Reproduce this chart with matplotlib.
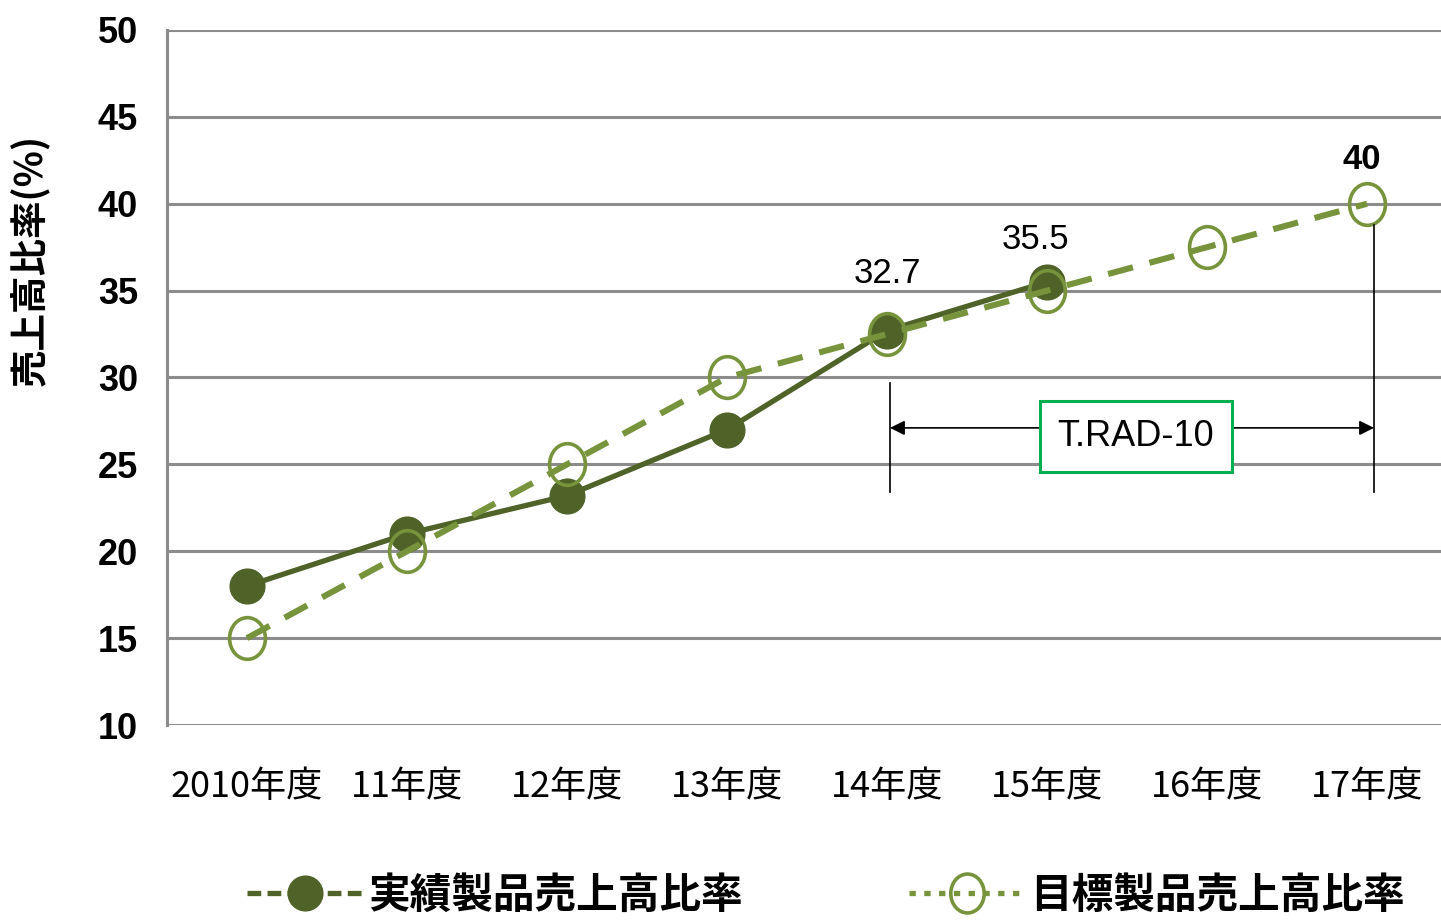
import matplotlib
matplotlib.use("Agg")
import matplotlib.pyplot as plt
from matplotlib.path import Path
from matplotlib.transforms import Affine2D
from matplotlib.lines import Line2D
from matplotlib.patches import FancyArrowPatch

plt.rcParams['font.family'] = ['Noto Sans CJK JP', 'DejaVu Sans']

categories = ["2010年度", "11年度", "12年度", "13年度", "14年度", "15年度", "16年度", "17年度"]
actual = [18, 21, 23.2, 27, 32.7, 35.5]
target = [15, 20, 25, 30, 32.5, 35, 37.5, 40]
label_actual = "実績製品売上高比率"
label_target = "目標製品売上高比率"
ylabel = "売上高比率(%)"
yticks = [10, 15, 20, 25, 30, 35, 40, 45, 50]
annot_text = "T.RAD-10"

c_actual = "#4F6228"
c_target = "#77933C"
c_grid = "#8C8C8C"

narrow = ['Liberation Sans', 'DejaVu Sans']

W, H = 1441, 921
fig = plt.figure(figsize=(W / 100, H / 100), dpi=100)
ax = fig.add_axes([167 / W, 1 - 725 / H, (W - 167) / W, (725 - 30) / H])

ax.set_ylim(10, 50)
ax.set_xlim(-0.5, 7.5 - 6 / 160)
ax.set_yticks(yticks)
ax.yaxis.grid(True, color=c_grid, linewidth=2.2)
ax.set_axisbelow(True)
for s in ["top", "right", "bottom"]:
    ax.spines[s].set_visible(False)
ax.spines["left"].set_color(c_grid)
ax.spines["left"].set_linewidth(2.2)
ax.tick_params(length=0)
ax.set_xticks(range(len(categories)))
ax.set_xticklabels(categories, fontsize=26)
ax.tick_params(axis='x', pad=32)
ax.tick_params(axis='y', pad=21)
for t in ax.get_yticklabels():
    t.set_fontfamily(narrow)
    t.set_fontweight('bold')
    t.set_fontsize(26)

ax.text(-0.108, 0.669, ylabel, transform=ax.transAxes, rotation=90, ha='center', va='center',
        fontsize=27, fontweight='bold')

# elliptical marker (slightly taller than wide)
ell = Path.unit_circle().transformed(Affine2D().scale(0.86, 1.0))

xa = list(range(len(actual)))
xt = list(range(len(target)))
ax.plot(xa, actual, color=c_actual, linewidth=3.8, marker='o', markersize=25,
        markerfacecolor=c_actual, markeredgecolor=c_actual, zorder=3, clip_on=False)
ax.plot(xt, target, color=c_target, linewidth=4.4, linestyle=(0, (4.2, 2.8)),
        marker=ell, markersize=30, markerfacecolor='none', markeredgecolor=c_target,
        markeredgewidth=2.6, zorder=4, clip_on=False)

# data labels
ax.annotate(f"{actual[4]}", (xa[4], actual[4]), xytext=(0, 29), textcoords='offset points',
            ha='center', va='bottom', fontsize=25, fontfamily=narrow)
ax.annotate(f"{actual[5]}", (xa[5] - 0.07, actual[5]), xytext=(0, 19), textcoords='offset points',
            ha='center', va='bottom', fontsize=25, fontfamily=narrow)
ax.annotate(f"{target[7]}", (xt[7] - 0.03, target[7]), xytext=(0, 20), textcoords='offset points',
            ha='center', va='bottom', fontsize=25, fontweight='bold', fontfamily=narrow)

# T.RAD-10 span annotation
x0, x1 = 4 + 3 / 160, 7 + 7 / 160
ax.plot([x0, x0], [23.4, 29.7], color='black', linewidth=1.2, zorder=5)
ax.plot([x1, x1], [23.4, 38.8], color='black', linewidth=1.2, zorder=5)
arr = FancyArrowPatch((x0, 27.1), (x1, 27.1), arrowstyle='<|-|>', mutation_scale=22,
                      color='black', linewidth=1.2, zorder=5, shrinkA=0, shrinkB=0)
ax.add_patch(arr)
ax.text(4 + (1137 - 888) / 160, 26.6, annot_text, ha='center', va='center', fontsize=26,
        zorder=6, fontfamily=narrow,
        bbox=dict(boxstyle='square,pad=0.5', facecolor='white', edgecolor='#00B050', linewidth=2.2))

# legend
h1 = Line2D([], [], color=c_actual, linewidth=3.8, linestyle=(0, (2.6, 1.2)), marker='o', markersize=25,
            markerfacecolor=c_actual, markeredgecolor=c_actual)
h2 = Line2D([], [], color=c_target, linewidth=3.8, linestyle=(0, (1.2, 1.6)), marker=ell,
            markersize=28, markerfacecolor='none', markeredgecolor=c_target, markeredgewidth=2.6)
fig.legend([h1, h2], [label_actual, label_target], loc='lower center', ncol=2,
           bbox_to_anchor=(0.573, -0.036), frameon=False, handlelength=2.8, handletextpad=0.1,
           columnspacing=4.0, prop=dict(family=['Noto Sans CJK JP', 'DejaVu Sans'], weight='bold', size=30))

fig.savefig("out.png", dpi=100)
